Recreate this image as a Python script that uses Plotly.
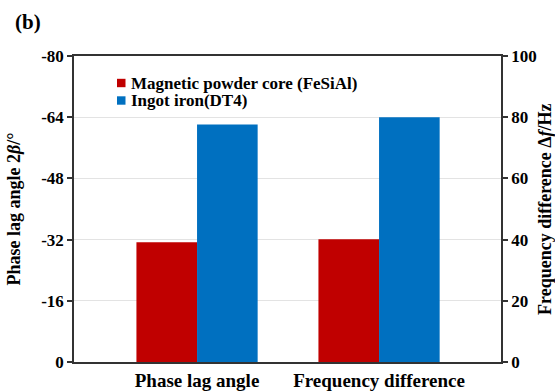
import plotly.graph_objects as go

categories = ["Phase lag angle", "Frequency difference"]
series_names = ["Magnetic powder core (FeSiAl)", "Ingot iron(DT4)"]
series_colors = ["#c00000", "#0070c0"]
# Phase lag angle 2β (°) on left axis, frequency difference Δf (Hz) on right axis
phase_lag = [-31.3, -62.1]
freq_diff = [40.1, 80.0]

left_ticks = [0, -16, -32, -48, -64, -80]
right_ticks = [0, 20, 40, 60, 80, 100]

FONT = "Liberation Serif"
bar_w = 0.333

W, H = 555, 391
L, R, T, B = 74, 54, 56, 29
plot_w = W - L - R
plot_h = H - T - B


def px(x):
    return (x - L) / plot_w


def py(y):
    return (H - B - y) / plot_h


fig = go.Figure()

for i, (name, color) in enumerate(zip(series_names, series_colors)):
    off = -bar_w if i == 0 else 0.0
    fig.add_trace(go.Bar(
        x=[categories[0]], y=[phase_lag[i]], yaxis="y",
        width=bar_w, offset=off, marker=dict(color=color, line=dict(width=0)),
        showlegend=False, name=name))
    fig.add_trace(go.Bar(
        x=[categories[1]], y=[freq_diff[i]], yaxis="y2",
        width=bar_w, offset=off, marker=dict(color=color, line=dict(width=0)),
        showlegend=False, name=name))

    # legend key: small square swatch + label
    cy = 83 + 17.5 * i
    fig.add_shape(type="rect", xref="paper", yref="paper",
                  x0=px(117), x1=px(125.5), y0=py(cy - 4.2), y1=py(cy + 4.2),
                  fillcolor=color, line=dict(width=0))
    fig.add_annotation(text=name, xref="paper", yref="paper",
                       x=px(130), y=py(cy), xanchor="left", yanchor="middle",
                       showarrow=False, borderpad=0,
                       font=dict(family=FONT, size=17, color="black", weight="bold"))

fig.update_layout(
    width=W, height=H,
    margin=dict(l=L, r=R, t=T, b=B, autoexpand=False),
    paper_bgcolor="white", plot_bgcolor="white",
    font=dict(family=FONT, color="black"),
    barmode="overlay", showlegend=False,
    xaxis=dict(
        type="category", categoryorder="array", categoryarray=categories,
        range=[-0.676, 1.67], showline=True, linecolor="#333", linewidth=1.5,
        mirror=True, ticks="", showgrid=False, automargin=False,
        tickfont=dict(family=FONT, size=19, color="black", weight="bold"),
    ),
    yaxis=dict(
        range=[0, -80], tickvals=left_ticks, ticktext=[str(v) for v in left_ticks],
        showline=True, linecolor="#333", linewidth=1.5, ticks="outside",
        ticklen=5, tickwidth=1.5, tickcolor="#333", automargin=False,
        showgrid=True, gridcolor="#e3e3e3", gridwidth=1, zeroline=False,
        tickfont=dict(family=FONT, size=17, color="black", weight="bold"),
        title=dict(text="Phase lag angle 2<i>β</i>/°", standoff=16,
                   font=dict(family=FONT, size=18, color="black", weight="bold")),
    ),
    yaxis2=dict(
        overlaying="y", side="right", range=[0, 100], tickvals=right_ticks,
        showline=True, linecolor="#333", linewidth=1.5, ticks="outside",
        ticklen=5, tickwidth=1.5, tickcolor="#333", automargin=False,
        showgrid=False, zeroline=False,
        tickfont=dict(family=FONT, size=17, color="black", weight="bold"),
    ),
)

# right-hand axis title, set close to the page edge
fig.add_annotation(text="Frequency difference Δ<i>f</i>/Hz", xref="paper", yref="paper",
                   x=px(545), y=0.5, xanchor="center", yanchor="middle",
                   textangle=-90, showarrow=False,
                   font=dict(family=FONT, size=18, color="black", weight="bold"))

fig.add_annotation(text="(b)", xref="paper", yref="paper",
                   x=px(13), y=py(22), xanchor="left", yanchor="middle",
                   showarrow=False,
                   font=dict(family=FONT, size=21, color="black", weight="bold"))

fig.write_html("out.html")
